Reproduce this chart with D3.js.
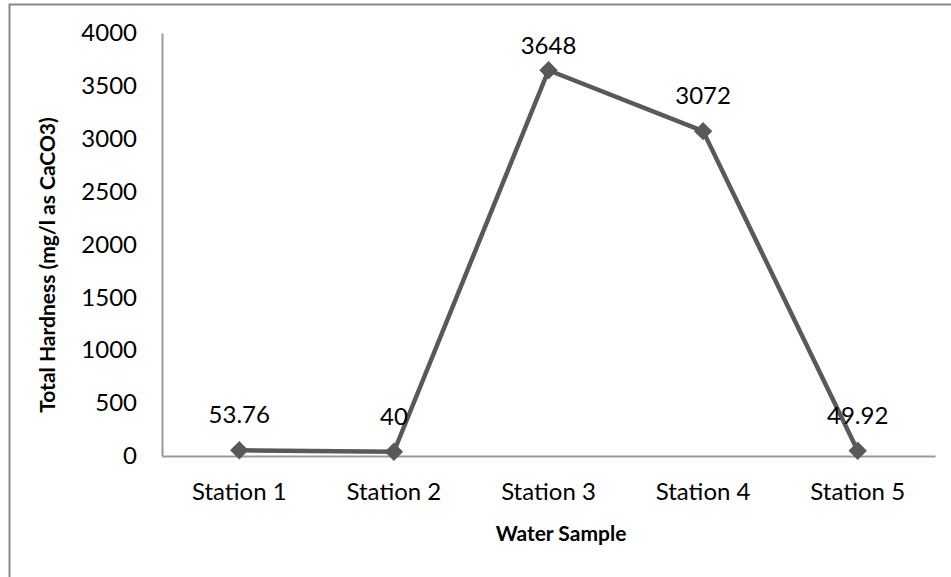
<!DOCTYPE html>
<html>
<head>
<meta charset="utf-8">
<script src="https://cdn.jsdelivr.net/npm/d3@7"></script>
<style>
  html, body { margin: 0; padding: 0; background: #fff; }
  svg { display: block; }
  text { font-family: Lato, "Open Sans", "Liberation Sans", sans-serif; fill: #000; }
</style>
</head>
<body>
<svg id="chart" width="951" height="577"></svg>
<script>
// Total hardness per sampling station
const stations = ["Station 1", "Station 2", "Station 3", "Station 4", "Station 5"];
const hardness = [53.76, 40, 3648, 3072, 49.92];
const yTicks = [0, 500, 1000, 1500, 2000, 2500, 3000, 3500, 4000];
const yTitle = "Total Hardness (mg/l as CaCO3)";
const xTitle = "Water Sample";

const svg = d3.select("#chart");
const W = 951, H = 577;
const plot = { left: 162, right: 935, top: 33, bottom: 456 };
const lineColor = "#595959";
const fontFamily = "Lato, 'Open Sans', sans-serif";
const tickSize = 24, titleSize = 21;

// chart frame
svg.append("rect")
  .attr("x", 9.5).attr("y", 4.5)
  .attr("width", W + 10).attr("height", H + 10)
  .attr("fill", "none").attr("stroke", "#8a8a8a").attr("stroke-width", 2);

const x = d3.scaleBand().domain(stations).range([plot.left, plot.right]);
const y = d3.scaleLinear().domain([0, 4000]).range([plot.bottom, plot.top]);

// y axis
const yAxis = svg.append("g")
  .attr("transform", `translate(${plot.left},0)`)
  .call(d3.axisLeft(y).tickValues(yTicks).tickSize(0).tickPadding(25).tickFormat(d3.format("d")));
yAxis.select(".domain").attr("stroke", "#9a9a9a").attr("stroke-width", 2);
yAxis.selectAll("text").attr("font-size", tickSize).style("font-family", fontFamily).attr("fill", "#000");

// x axis
const xAxis = svg.append("g")
  .attr("transform", `translate(0,${plot.bottom})`)
  .call(d3.axisBottom(x).tickSize(0).tickPadding(27));
xAxis.select(".domain").attr("stroke", "#9a9a9a").attr("stroke-width", 2);
xAxis.selectAll("text").attr("font-size", tickSize).style("font-family", fontFamily).attr("fill", "#000");

const pts = stations.map((s, i) => ({ s, v: hardness[i] }));
const cx = d => x(d.s) + x.bandwidth() / 2;

// series line
svg.append("path")
  .datum(pts)
  .attr("fill", "none")
  .attr("stroke", lineColor)
  .attr("stroke-width", 4.5)
  .attr("stroke-linejoin", "round")
  .attr("d", d3.line().x(cx).y(d => y(d.v)));

// diamond markers
svg.selectAll(".mk").data(pts).join("rect")
  .attr("class", "mk")
  .attr("x", -6.5).attr("y", -6.5).attr("width", 13).attr("height", 13)
  .attr("fill", lineColor)
  .attr("transform", d => `translate(${cx(d)},${y(d.v)}) rotate(45)`);

// value labels, kept inside the plot area at the top
svg.selectAll(".lbl").data(pts).join("text")
  .attr("class", "lbl")
  .attr("x", cx)
  .attr("y", d => Math.max(y(d.v) - 27, 54))
  .attr("text-anchor", "middle")
  .attr("font-size", tickSize)
  .text(d => d.v);

// axis titles
svg.append("text")
  .attr("transform", `translate(55,265) rotate(-90)`)
  .attr("text-anchor", "middle")
  .attr("font-size", titleSize).attr("font-weight", "bold")
  .text(yTitle);

svg.append("text")
  .attr("x", 561).attr("y", 541)
  .attr("text-anchor", "middle")
  .attr("font-size", titleSize).attr("font-weight", "bold")
  .text(xTitle);
</script>
</body>
</html>
